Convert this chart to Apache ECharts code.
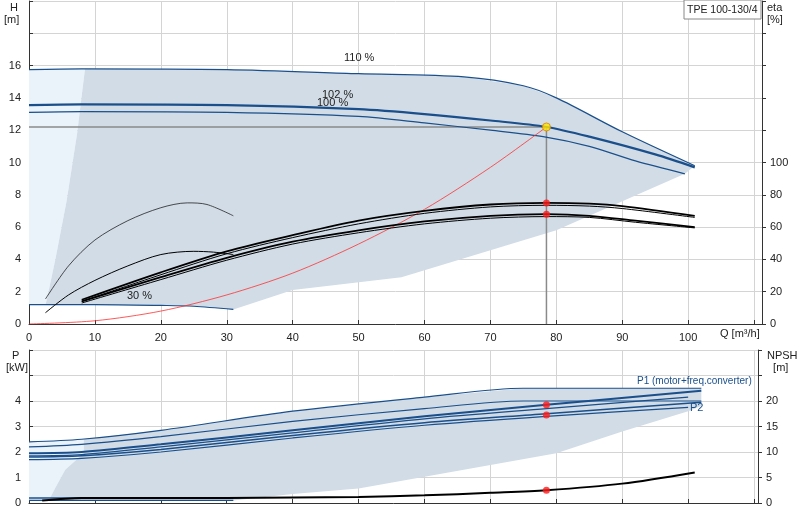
<!DOCTYPE html><html><head><meta charset="utf-8"><script src="https://cdn.jsdelivr.net/npm/echarts@6/dist/echarts.min.js"></script>
<style>body{margin:0}#c{width:800px;height:520px}</style></head><body><div id="c"></div><script>
const h110=[[0,15.75],[8,15.8],[30,15.75],[50,15.5],[66,15.3],[75,14.75],[80,14.0],[90,11.9],[101,9.8]];
const h102=[[0,13.55],[8,13.6],[30,13.55],[50,13.3],[60,13.0],[70,12.6],[78.5,12.2],[85,11.6],[95,10.5],[101,9.7]];
const h100=[[0,13.1],[8,13.15],[30,13.1],[50,12.85],[60,12.45],[70,12.0],[78,11.6],[85,11.0],[92,10.1],[99.5,9.3]];
const h30=[[0,1.2],[10,1.2],[20,1.15],[25,1.1],[31,0.9]];
const sysCurve=[[0,0],[10,0.2],[20,0.8],[30,1.8],[40,3.15],[50,4.95],[60,7.1],[70,9.7],[78.5,12.2]];
const opLine=[[0,12.2],[78.5,12.2],[78.5,0]];
const hRegion=[[8.5,15.8],[30,15.75],[50,15.5],[66,15.3],[75,14.75],[80,14.0],[90,11.9],[101,9.8],[99.5,9.3],[80,5.8],[65,3.95],[56.5,2.9],[40,2.1],[31,0.9],[25,1.1],[20,1.15],[10,1.2],[2.5,1.2],[2.7,1.5],[4,4],[5.7,7.6],[7.3,11.8]];
const hLight=[[0,15.75],[8.5,15.8],[7.3,11.8],[5.7,7.6],[4,4],[2.7,1.5],[2.5,1.2],[0,1.2]];
const etaA=[[8,15],[20,32],[30,45],[40,55],[50,64],[60,70],[70,74],[78.5,75],[85,74.5],[90,73],[101,67]];
const etaB=[[8,14],[20,30.5],[30,43.5],[40,53.5],[50,62],[60,68.5],[70,72.5],[78.5,73.5],[85,73],[90,71.5],[101,66]];
const etaC=[[8,14],[20,29],[30,41],[40,51],[50,58],[60,63.5],[70,67],[78.5,68],[85,67],[92,64],[101,60]];
const etaD=[[8,13],[20,27.5],[30,39.5],[40,49.5],[50,56.5],[60,62],[70,65.5],[78.5,66.5],[85,66],[92,63],[101,59.5]];
const etaThin=[[2.5,15.5],[6,36],[10,52],[15,64],[20,72],[24,75],[27,74],[31,67]];
const etaLow=[[2.5,7],[6,18],[10,27],[15,36],[20,43],[25,45],[28,44.5],[31,43]];
const pA=[[0,2.4],[8,2.5],[20,2.85],[40,3.6],[60,4.15],[75,4.5],[102,4.5]];
const pB=[[0,2.2],[8,2.3],[20,2.6],[40,3.2],[60,3.7],[75,4.0],[102,4.0]];
const p1a=[[0,1.95],[8,2.0],[20,2.3],[40,2.85],[60,3.4],[78.5,3.85],[102,4.4]];
const p1b=[[0,1.85],[8,1.9],[20,2.2],[40,2.75],[60,3.3],[78.5,3.7],[100,4.15]];
const p2a=[[0,1.8],[8,1.85],[20,2.1],[40,2.65],[60,3.15],[78.5,3.5],[102,3.95]];
const p2b=[[0,1.7],[8,1.75],[20,2.0],[40,2.55],[60,3.05],[78.5,3.4],[100,3.75]];
const p30a=[[0,0.2],[31,0.2]];
const p30b=[[0,0.1],[31,0.1]];
const npsh=[[2,0.5],[8,1.0],[30,1.0],[50,1.2],[60,1.5],[70,2.0],[78.5,2.5],[90,3.8],[101,6.0]];
const pRegion=[[8.3,2.5],[20,2.85],[40,3.6],[60,4.15],[75,4.5],[102,4.5],[102,3.8],[100,3.6],[90,2.8],[80,1.95],[60,1.03],[50,0.57],[40,0.35],[31,0.1],[3,0.1],[4,0.6],[5.5,1.3],[8.3,1.95]];
const pLight=[[0,2.4],[8.3,2.5],[8.3,1.95],[5.5,1.3],[4,0.6],[3,0.1],[0,0.1]];
const opPts=[[78.5,75],[78.5,68]];
const pPts=[[78.5,3.85],[78.5,3.45]];
const nPts=[[78.5,2.5]];

const blue='#1a4f8b',gridC='#d4d4d4',txt='#222';
function poly(pts,color,x,y){return {type:'custom',xAxisIndex:x,yAxisIndex:y,silent:true,z:1,data:[0],
 renderItem:(p,api)=>({type:'polygon',shape:{points:pts.map(q=>api.coord(q))},style:{fill:color}})};}
function ln(d,x,y,w,c,extra){return Object.assign({type:'line',xAxisIndex:x,yAxisIndex:y,data:d,symbol:'none',smooth:0.3,lineStyle:{width:w,color:c},z:3,silent:true},extra||{});}
function dots(d,x,y,c){return {type:'scatter',xAxisIndex:x,yAxisIndex:y,data:d,symbolSize:7,itemStyle:{color:c},z:6};}
function lbl(l,t,s,c,f){return {type:'text',left:l,top:t,z:100,style:{text:s,fill:c||txt,font:(f||11)+'px Liberation Sans',lineHeight:12}};}
const ax={axisLine:{show:true,lineStyle:{color:'#333'}},axisTick:{show:true,length:-4,lineStyle:{color:'#333'}},axisLabel:{color:txt,fontSize:11,fontFamily:'Liberation Sans'},splitLine:{show:true,lineStyle:{color:gridC,width:1}}};
const chart=echarts.init(document.getElementById('c'));
chart.setOption({animation:false,
grid:[{left:29,right:38,top:1,height:323},{left:29,right:42,top:350,height:153}],
xAxis:[Object.assign({},ax,{gridIndex:0,type:'value',min:0,max:111.2,interval:10,axisLabel:Object.assign({},ax.axisLabel,{formatter:v=>v<=100?v:''})}),
 Object.assign({},ax,{gridIndex:1,type:'value',min:0,max:110.6,interval:10,axisLabel:{show:false}})],
yAxis:[Object.assign({},ax,{gridIndex:0,min:0,max:20,interval:2,axisLabel:Object.assign({},ax.axisLabel,{formatter:v=>v<=16?v:''})}),
 Object.assign({},ax,{gridIndex:0,position:'right',min:0,max:200,interval:20,splitLine:{show:false},axisTick:{show:true,length:4},axisLabel:Object.assign({},ax.axisLabel,{formatter:v=>v<=100?v:''})}),
 Object.assign({},ax,{gridIndex:1,min:0,max:6,interval:1,axisLabel:Object.assign({},ax.axisLabel,{formatter:v=>v<=4?v:''})}),
 Object.assign({},ax,{gridIndex:1,position:'right',min:0,max:30,interval:5,splitLine:{show:false},axisTick:{show:true,length:4},axisLabel:Object.assign({},ax.axisLabel,{formatter:v=>v<=20?v:''})})],
series:[
 poly(hLight,'#eaf2fa',0,0),poly(hRegion,'#d1dce6',0,0),
 ln(opLine,0,0,1.5,'#8a8a8a',{smooth:false}),
 ln(h110,0,0,1.2,blue),ln(h102,0,0,2.2,blue),ln(h100,0,0,1.2,blue),ln(h30,0,0,1.2,blue),
 ln(sysCurve,0,0,0.8,'#ff3030'),
 ln(etaA,0,1,1.8,'#000'),ln(etaB,0,1,1,'#000'),ln(etaC,0,1,1.8,'#000'),ln(etaD,0,1,1,'#000'),
 ln(etaThin,0,1,0.8,'#222'),ln(etaLow,0,1,1,'#000'),
 dots(opPts,0,1,'#ff1a1a'),
 {type:'scatter',xAxisIndex:0,yAxisIndex:0,data:[[78.5,12.2]],symbolSize:8,itemStyle:{color:'#ffe600',borderColor:'#e08000',borderWidth:1},z:7},
 poly(pLight,'#eaf2fa',1,2),poly(pRegion,'#d1dce6',1,2),
 ln(pA,1,2,1.2,blue),ln(pB,1,2,1.2,blue),ln(p1a,1,2,2,blue),ln(p1b,1,2,1.2,blue),ln(p2a,1,2,1.5,blue),ln(p2b,1,2,1.2,blue),
 ln(p30a,1,2,1.5,blue),ln(p30b,1,2,1.2,blue),
 ln(npsh,1,3,2,'#000'),
 dots(pPts,1,2,'#ff1a1a'),dots(nPts,1,3,'#ff1a1a')
],
graphic:[
 lbl(4,2,'  H\n[m]'),
 lbl(767,2,'eta\n[%]'),
 lbl(720,328,'Q [m³/h]'),
 lbl(6,350,'  P\n[kW]'),
 lbl(767,350,'NPSH\n  [m]'),
 {type:'rect',z:100,shape:{x:684,y:0,width:77,height:19},style:{fill:'#fff',stroke:'#888'}},
 lbl(687,4,'TPE 100-130/4',txt,10.5),
 lbl(344,52,'110 %'),
 lbl(322,89,'102 %'),
 lbl(317,97,'100 %'),
 lbl(127,290,'30 %'),
 lbl(637,375,'P1 (motor+freq.converter)',blue,10),
 lbl(690,402,'P2',blue)
]});
</script></body></html>
